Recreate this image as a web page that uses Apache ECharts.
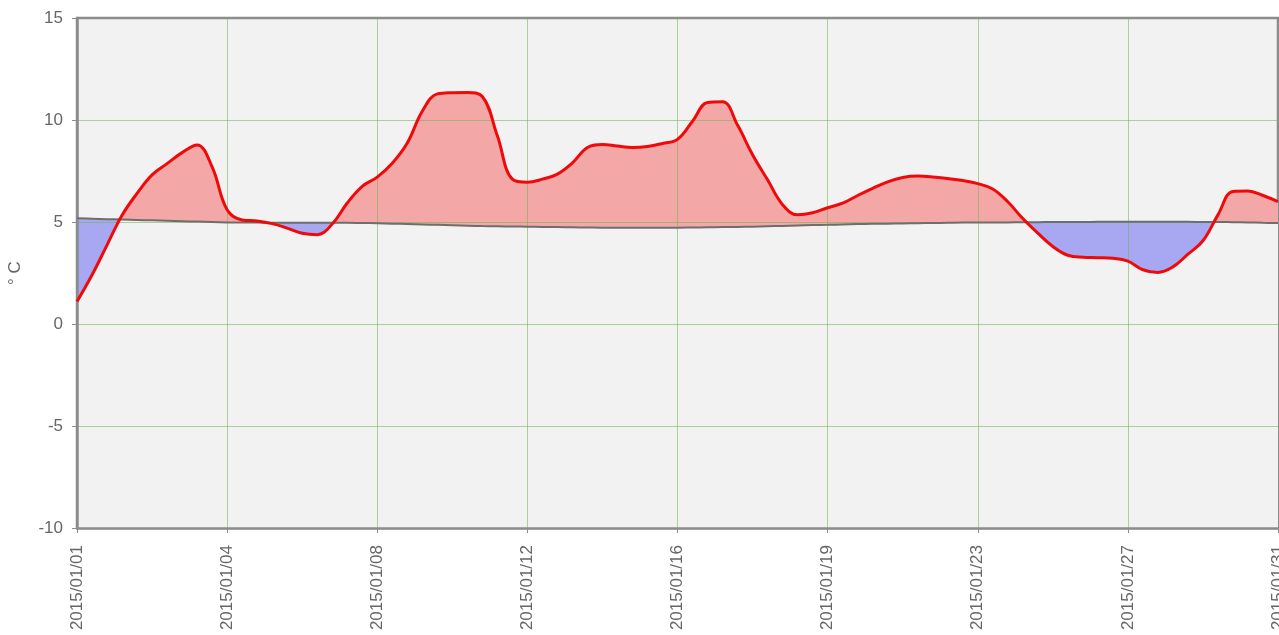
<!DOCTYPE html>
<html><head><meta charset="utf-8">
<script src="https://cdn.jsdelivr.net/npm/echarts@6/dist/echarts.min.js"></script>
<style>html,body{margin:0;padding:0;background:#fff}#c{width:1279px;height:635px}</style>
</head><body><div id="c"></div>
<script>
// Time stamps: 2015/01/01 00:00 onward, one reading every 9 hours
const startDate = '2015/01/01';
const stepHours = 9;
const pointCount = 81;

// Measured temperature (°C)
const actualTemp = [
  1.1, 2.4, 3.87, 5.33, 6.4, 7.31, 7.86, 8.4, 8.78, 7.7,
  5.6, 5.1, 5.05, 4.92, 4.7, 4.45, 4.38, 4.9, 5.93, 6.75,
  7.2, 7.88, 8.87, 10.43, 11.28, 11.34, 11.35, 11.15, 9.23, 7.1,
  6.95, 7.1, 7.35, 7.9, 8.65, 8.8, 8.72, 8.65, 8.7, 8.85,
  9.05, 9.94, 10.86, 10.9, 9.75, 8.3, 7.07, 5.85, 5.35, 5.45,
  5.7, 5.92, 6.3, 6.65, 6.97, 7.18, 7.25, 7.21, 7.13, 7.03,
  6.88, 6.62, 5.99, 5.17, 4.45, 3.8, 3.37, 3.27, 3.25, 3.22,
  3.08, 2.66, 2.53, 2.8, 3.42, 4.08, 5.35, 6.5, 6.52, 6.3,
  6.0
];

// Normal (average) temperature (°C)
const normalTemp = [
  5.18, 5.16, 5.14, 5.12, 5.10, 5.08, 5.06, 5.04, 5.02, 5.0,
  4.98, 4.97, 4.97, 4.96, 4.96, 4.96, 4.96, 4.96, 4.96, 4.95,
  4.94, 4.92, 4.90, 4.88, 4.86, 4.84, 4.82, 4.80, 4.79, 4.78,
  4.77, 4.76, 4.75, 4.74, 4.73, 4.72, 4.72, 4.72, 4.72, 4.72,
  4.72, 4.73, 4.74, 4.75, 4.76, 4.77, 4.79, 4.81, 4.83, 4.85,
  4.86, 4.88, 4.90, 4.91, 4.92, 4.93, 4.94, 4.95, 4.96, 4.97,
  4.97, 4.98, 4.98, 4.99, 4.99, 5.0, 5.0, 5.0, 5.01, 5.01,
  5.01, 5.01, 5.01, 5.01, 5.01, 5.0, 5.0, 4.99, 4.98, 4.96,
  4.95
];

const yMin = -10, yMax = 15, yStep = 5;
const labelEvery = 10;

// build category strings
function pad(n){ return (n < 10 ? '0' : '') + n; }
const categories = [];
(function(){
  const p = startDate.split('/').map(Number);
  const t0 = Date.UTC(p[0], p[1]-1, p[2]);
  for (let i = 0; i < pointCount; i++) {
    const d = new Date(t0 + i * stepHours * 3600000);
    categories.push(d.getUTCFullYear() + '/' + pad(d.getUTCMonth()+1) + '/' + pad(d.getUTCDate()) + ' ' + pad(d.getUTCHours()) + ':00');
  }
})();
const lowerTemp = actualTemp.map((v, i) => Math.min(v, normalTemp[i]));

const BG = '#f2f2f2';
const SMOOTH = 0.4;
const font = 'Liberation Sans, Arial, sans-serif';
const GRIDLINE = 'rgba(110,180,80,0.55)';

const chart = echarts.init(document.getElementById('c'), null, {renderer: 'canvas'});
chart.setOption({
  animation: false,
  backgroundColor: '#ffffff',
  grid: {left: 77, right: 1, top: 18, bottom: 107, outerBoundsMode: 'none', containLabel: false,
    show: true, backgroundColor: BG, borderColor: '#8c8c8c', borderWidth: 2.5},
  xAxis: {
    type: 'category', data: categories, boundaryGap: false, z: 4,
    axisLine: {onZero: false, lineStyle: {color: '#8c8c8c', width: 2.5}},
    axisTick: {show: true, interval: labelEvery - 1, length: 5, lineStyle: {color: '#8c8c8c'}},
    axisLabel: {interval: labelEvery - 1, rotate: 90, margin: 17, color: '#666', fontSize: 17, fontFamily: font,
      formatter: v => v.split(' ')[0]},
    splitLine: {show: true, interval: labelEvery - 1, showMinLine: false, showMaxLine: false, lineStyle: {color: GRIDLINE, width: 1}}
  },
  yAxis: {
    type: 'value', min: yMin, max: yMax, interval: yStep, z: 4,
    name: '° C', nameLocation: 'middle', nameGap: 53, nameRotate: 90,
    nameTextStyle: {color: '#666', fontSize: 17, fontFamily: font},
    axisLine: {show: true, onZero: false, lineStyle: {color: '#8c8c8c', width: 2.5}},
    axisTick: {show: true, length: 5, lineStyle: {color: '#8c8c8c'}},
    axisLabel: {margin: 14, color: '#666', fontSize: 17, fontFamily: font},
    splitLine: {show: true, showMinLine: false, showMaxLine: false, lineStyle: {color: GRIDLINE, width: 1}}
  },
  series: [
    {name: 'aboveFill', type: 'line', data: actualTemp, smooth: SMOOTH, symbol: 'none', silent: true, z: 1,
      lineStyle: {width: 0, opacity: 0}, areaStyle: {color: '#f4a7a7', opacity: 1, origin: 'start'}},
    {name: 'belowFill', type: 'line', data: normalTemp, smooth: SMOOTH, symbol: 'none', silent: true, z: 2,
      lineStyle: {width: 0, opacity: 0}, areaStyle: {color: '#a7a7f2', opacity: 1, origin: 'start'}},
    {name: 'mask', type: 'line', data: lowerTemp, smooth: SMOOTH, symbol: 'none', silent: true, z: 3,
      lineStyle: {width: 0, opacity: 0}, areaStyle: {color: BG, opacity: 1, origin: 'start'}},
    {name: 'Normal', type: 'line', data: normalTemp, smooth: SMOOTH, symbol: 'none', z: 5,
      lineStyle: {color: '#6e6e6e', width: 2}},
    {name: 'Actual', type: 'line', data: actualTemp, smooth: SMOOTH, symbol: 'none', z: 6,
      lineStyle: {color: '#ee0a0a', width: 3}}
  ]
});
</script>
</body></html>
